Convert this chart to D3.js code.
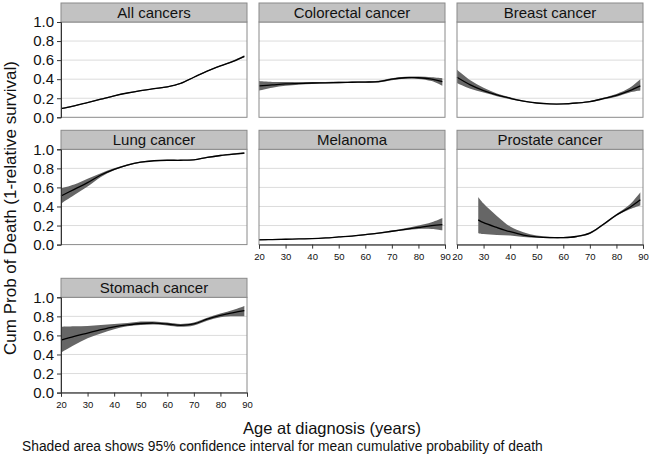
<!DOCTYPE html>
<html><head><meta charset="utf-8">
<script src="https://cdn.jsdelivr.net/npm/d3@7"></script>
<style>body{margin:0;background:#fff}svg{display:block;font-family:"Liberation Sans",Arial,sans-serif}</style>
</head><body><svg id="c" width="650" height="458"></svg>
<script>
const panels = ["All cancers","Colorectal cancer","Breast cancer","Lung cancer","Melanoma","Prostate cancer","Stomach cancer"];
const ages = [20,25,30,35,40,45,50,55,60,65,70,75,80,85,89];
const prostateAges = [28,30,35,40,45,50,55,60,65,70,75,80,85,89];
const xTicks = [20,30,40,50,60,70,80,90];
const yTicks = [0,0.2,0.4,0.6,0.8,1.0];

const allMean = [0.09,0.12,0.155,0.19,0.225,0.255,0.28,0.30,0.32,0.355,0.42,0.485,0.54,0.59,0.64];
const allLo   = [0.083,0.113,0.149,0.184,0.219,0.249,0.274,0.294,0.314,0.349,0.414,0.479,0.533,0.582,0.63];
const allHi   = [0.097,0.127,0.161,0.196,0.231,0.261,0.286,0.306,0.326,0.361,0.426,0.491,0.547,0.598,0.65];

const crcMean = [0.33,0.34,0.35,0.355,0.36,0.362,0.365,0.368,0.37,0.375,0.40,0.415,0.415,0.40,0.375];
const crcLo   = [0.28,0.31,0.33,0.342,0.35,0.354,0.358,0.36,0.362,0.366,0.39,0.405,0.403,0.38,0.33];
const crcHi   = [0.38,0.37,0.37,0.368,0.37,0.37,0.372,0.376,0.378,0.384,0.41,0.425,0.427,0.42,0.41];

const brMean = [0.42,0.34,0.28,0.235,0.20,0.17,0.15,0.14,0.14,0.15,0.165,0.195,0.23,0.28,0.33];
const brLo   = [0.36,0.30,0.26,0.222,0.19,0.163,0.145,0.135,0.135,0.145,0.158,0.186,0.215,0.26,0.28];
const brHi   = [0.50,0.39,0.31,0.25,0.21,0.177,0.155,0.145,0.145,0.155,0.172,0.205,0.245,0.31,0.40];

const lungMean = [0.51,0.58,0.65,0.73,0.79,0.835,0.865,0.88,0.885,0.885,0.89,0.915,0.935,0.95,0.96];
const lungLo   = [0.43,0.52,0.61,0.71,0.78,0.828,0.859,0.874,0.879,0.879,0.884,0.908,0.928,0.942,0.95];
const lungHi   = [0.59,0.63,0.69,0.75,0.80,0.842,0.871,0.886,0.891,0.891,0.896,0.922,0.942,0.958,0.97];

const melMean = [0.05,0.053,0.056,0.06,0.063,0.07,0.08,0.09,0.105,0.12,0.14,0.16,0.18,0.20,0.21];
const melLo   = [0.043,0.047,0.051,0.055,0.058,0.065,0.075,0.085,0.099,0.113,0.132,0.15,0.165,0.165,0.15];
const melHi   = [0.058,0.06,0.062,0.065,0.068,0.075,0.085,0.095,0.111,0.127,0.148,0.172,0.20,0.235,0.28];

const proMean = [0.26,0.23,0.18,0.135,0.10,0.082,0.074,0.073,0.085,0.12,0.21,0.31,0.39,0.47];
const proLo   = [0.12,0.11,0.10,0.095,0.08,0.072,0.066,0.066,0.078,0.11,0.20,0.30,0.37,0.41];
const proHi   = [0.50,0.43,0.30,0.19,0.13,0.095,0.082,0.08,0.092,0.13,0.22,0.32,0.42,0.55];

const stoMean = [0.55,0.59,0.625,0.66,0.69,0.71,0.725,0.73,0.72,0.705,0.72,0.77,0.81,0.84,0.86];
const stoLo   = [0.42,0.50,0.57,0.62,0.665,0.695,0.71,0.715,0.705,0.69,0.705,0.755,0.79,0.80,0.80];
const stoHi   = [0.69,0.695,0.70,0.71,0.72,0.73,0.745,0.745,0.735,0.72,0.735,0.785,0.83,0.87,0.91];

const series = [
  {x:ages, m:allMean, lo:allLo, hi:allHi},
  {x:ages, m:crcMean, lo:crcLo, hi:crcHi},
  {x:ages, m:brMean, lo:brLo, hi:brHi},
  {x:ages, m:lungMean, lo:lungLo, hi:lungHi},
  {x:ages, m:melMean, lo:melLo, hi:melHi},
  {x:prostateAges, m:proMean, lo:proLo, hi:proHi},
  {x:ages, m:stoMean, lo:stoLo, hi:stoHi}
];

const svg = d3.select("#c");
const colLeft = [61, 259, 457];
const rowTop = [22, 149.3, 297.3];
const pw = 186, ph = 95.3, stripH = 19;
const yAxisPanels = [0,3,6];
const xAxisPanels = [4,5,6];
const curve = d3.curveCatmullRom.alpha(0.5);

panels.forEach((name,i)=>{
  const col = i%3, row = Math.floor(i/3);
  const g = svg.append("g").attr("transform",`translate(${colLeft[col]},${rowTop[row]})`);
  const x = d3.scaleLinear().domain([20,90]).range([0,pw]);
  const y = d3.scaleLinear().domain([0,1]).range([ph,0]);
  g.selectAll("line.grid").data(yTicks.slice(1,5)).join("line")
    .attr("x1",0).attr("x2",pw).attr("y1",d=>y(d)).attr("y2",d=>y(d))
    .attr("stroke","#dcdcdc").attr("stroke-width",1);
  const s = series[i];
  const pts = s.x.map((a,k)=>({a, m:s.m[k], lo:s.lo[k], hi:s.hi[k]}));
  g.append("path").datum(pts)
    .attr("d", d3.area().x(d=>x(d.a)).y0(d=>y(d.lo)).y1(d=>y(d.hi)).curve(curve))
    .attr("fill","#666");
  g.append("path").datum(pts)
    .attr("d", d3.line().x(d=>x(d.a)).y(d=>y(d.m)).curve(curve))
    .attr("fill","none").attr("stroke","#000").attr("stroke-width",1.3);
  g.append("rect").attr("x",0).attr("y",0).attr("width",pw).attr("height",ph)
    .attr("fill","none").attr("stroke","#8a8a8a").attr("stroke-width",1);
  g.append("rect").attr("x",0).attr("y",-stripH).attr("width",pw).attr("height",stripH)
    .attr("fill","#c2c2c2").attr("stroke","#8a8a8a").attr("stroke-width",1);
  g.append("text").attr("x",pw/2).attr("y",-stripH/2+5.5).attr("text-anchor","middle")
    .attr("font-size",15).attr("fill","#111").text(name);
  if (yAxisPanels.includes(i)) {
    const ax = g.append("g").call(d3.axisLeft(y).tickValues(yTicks).tickFormat(d3.format(".1f")).tickSize(4).tickPadding(3));
    ax.select(".domain").attr("stroke","#333");
    ax.selectAll(".tick line").attr("stroke","#333");
    ax.selectAll("text").attr("font-size",15).attr("font-family","Liberation Sans, Arial, sans-serif").attr("fill","#111");
  }
  if (xAxisPanels.includes(i)) {
    const ax = g.append("g").attr("transform",`translate(0,${ph})`)
      .call(d3.axisBottom(x).tickValues(xTicks).tickSize(4).tickPadding(5));
    ax.select(".domain").attr("stroke","#333");
    ax.selectAll(".tick line").attr("stroke","#333");
    ax.selectAll("text").attr("font-size",9.5).attr("font-family","Liberation Sans, Arial, sans-serif").attr("fill","#111");
  }
});

svg.append("text").attr("transform","translate(16,208) rotate(-90)").attr("text-anchor","middle")
  .attr("font-size",17).attr("fill","#111").text("Cum Prob of Death (1-relative survival)");
svg.append("text").attr("x",332).attr("y",434).attr("text-anchor","middle")
  .attr("font-size",16.5).attr("fill","#111").text("Age at diagnosis (years)");
svg.append("text").attr("x",22).attr("y",451).attr("font-size",13.8).attr("fill","#111")
  .text("Shaded area shows 95% confidence interval for mean cumulative probability of death");
</script></body></html>
